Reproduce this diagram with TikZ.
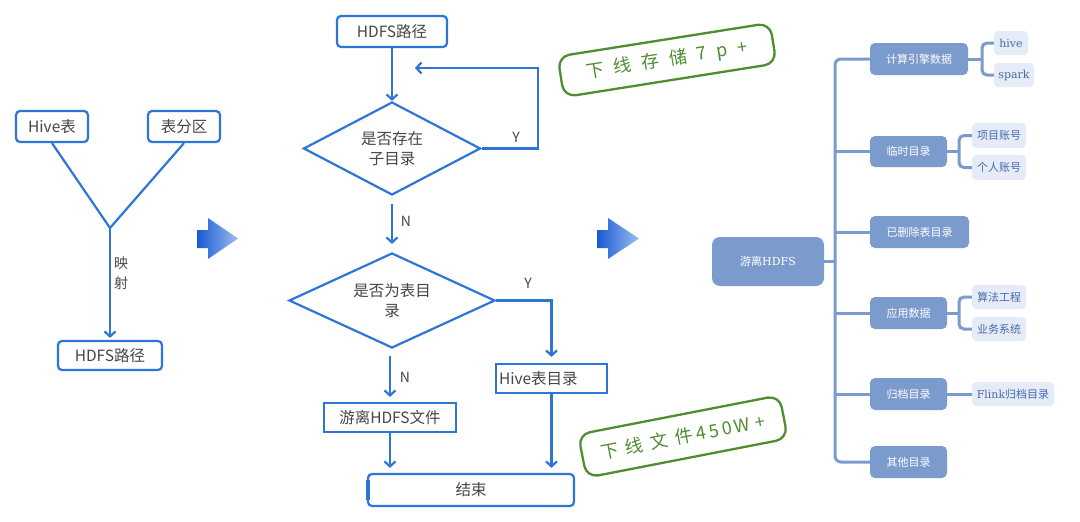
\documentclass[tikz,border=0pt]{standalone}
\usepackage{fontspec}
\newfontfamily\cjk{Noto Sans CJK SC}
\newfontfamily\serifl{DejaVu Serif}
\usetikzlibrary{arrows.meta,shapes.geometric}
\definecolor{fcblue}{RGB}{45,118,215}
\definecolor{fctext}{RGB}{70,70,70}
\definecolor{mmblue}{RGB}{123,155,205}
\definecolor{mmlight}{RGB}{230,236,247}
\definecolor{mmtext}{RGB}{70,105,175}
\definecolor{stampgreen}{RGB}{80,140,50}
\definecolor{arrdark}{RGB}{25,90,210}
\definecolor{arrlight}{RGB}{155,188,240}
\begin{document}
\begin{tikzpicture}[x=1pt,y=-1pt,
  fcbox/.style={draw=fcblue, line width=2.2pt, text=fctext, font=\cjk\fontsize{15.5}{20}\selectfont, inner sep=0pt, align=center},
  fcround/.style={fcbox, rounded corners=4pt},
  fcdia/.style={fcbox, diamond, aspect=2},
  fcline/.style={draw=fcblue, line width=2.2pt},
  fcarrow/.style={fcline, -{Straight Barb[length=5pt,width=11pt]}},
  fclabel/.style={text=fctext, font=\cjk\fontsize{14}{20}\selectfont, inner sep=0pt},
  mmline/.style={draw=mmblue, line width=3pt},
  mmmain/.style={fill=mmblue, text=white, rounded corners=5pt, font=\cjk\fontsize{11}{13}\selectfont, inner sep=0pt},
  mmleaf/.style={fill=mmlight, text=mmtext, rounded corners=4pt, font=\cjk\fontsize{11}{13}\selectfont, inner sep=0pt},
  stamp/.style={draw=stampgreen, line width=2.3pt, rounded corners=12pt, text=stampgreen, font=\cjk\fontsize{18}{20}\selectfont, inner sep=0pt}
]
\useasboundingbox[fill=white] (0,0) rectangle (1080,522);

% ---------- left part ----------
\node[fcround, minimum width=72pt, minimum height=31pt] (hive) at (52,126.5) {Hive表};
\node[fcround, minimum width=72pt, minimum height=31pt] (part) at (184,126.5) {表分区};
\coordinate (J) at (110,228);
\node[fcround, minimum width=104pt, minimum height=29pt] (hdfsA) at (110,355.5) {HDFS路径};
\draw[fcline] (hive.south) -- (J);
\draw[fcline] (part.south) -- (J);
\draw[fcarrow, shorten >=2pt] (J) -- (hdfsA.north);
\node[fclabel, align=center] (ys) at (121,273) {映\\射};

% ---------- gradient arrows ----------
\shade[left color=arrdark, right color=arrlight] (197,230) -- (208,230) -- (208,218) -- (238,238.5) -- (208,259) -- (208,248) -- (197,248) -- cycle;
\shade[left color=arrdark, right color=arrlight] (597,230) -- (608,230) -- (608,218) -- (639,238.5) -- (608,259) -- (608,248) -- (597,248) -- cycle;

% ---------- flowchart ----------
\node[fcround, minimum width=110pt, minimum height=31pt] (hdfsB) at (392,31.5) {HDFS路径};
\node[fcdia, minimum width=177pt, minimum height=93pt] (d1) at (392,148.5) {是否存在\\子目录};
\draw[fcarrow] (hdfsB.south) -- (d1.north);
\coordinate (loopR) at (538,68);
\coordinate (loopE) at (415,68);
\draw[fcarrow] (d1.east) -| (loopR) -- (loopE);
\node[fclabel] (y1) at (516,137) {Y};
\node[fcdia, minimum width=206pt, minimum height=95pt] (d2) at (392,300.5) {是否为表目\\录};
\draw[fcarrow, shorten <=8pt, shorten >=8pt] (d1.south) -- (d2.north);
\node[fclabel] (n1) at (406,221) {N};
\node[fcbox, minimum width=111pt, minimum height=29pt, text width=105pt, align=left] (hdir) at (551.5,378.5) {Hive表目录};
\draw[fcarrow, shorten >=6pt] (d2.east) -| (hdir.north);
\node[fclabel] (y2) at (528,283) {Y};
\node[fcbox, minimum width=132pt, minimum height=29pt] (youli) at (390,417.5) {游离HDFS文件};
\draw[fcarrow, shorten <=7pt, shorten >=5pt] (d2.south -| youli.north) -- (youli.north);
\node[fclabel] (n2) at (405,377) {N};
\node[fcround, minimum width=206pt, minimum height=32pt] (end) at (471,490) {结束};
\draw[draw=fcblue, line width=3.5pt] ([xshift=1.1pt,yshift=-10pt]end.west) -- ([xshift=1.1pt,yshift=10pt]end.west);
\draw[fcarrow, shorten >=5pt] (youli.south) -- (youli.south |- end.north);
\draw[fcarrow, shorten >=5pt] (hdir.south) -- (hdir.south |- end.north);

% ---------- stamps ----------
\node[stamp, minimum width=215pt, minimum height=41pt, rotate=9] (s1) at (667,60) {下\hspace{10pt}线\hspace{10pt}存\hspace{10pt}储\hspace{10pt}7\hspace{10pt}p\hspace{10pt}+};
\node[stamp, minimum width=205pt, minimum height=44pt, rotate=11] (s2) at (683,436.5) {下\hspace{7pt}线\hspace{7pt}文\hspace{7pt}件\hspace{4pt}4\hspace{3pt}5\hspace{3pt}0\hspace{3pt}W\hspace{5pt}+};

% ---------- mind map ----------
\node[mmmain, rounded corners=8pt, minimum width=112pt, minimum height=49pt] (root) at (768,261.5) {游离{\serifl HDFS}};
\node[mmmain, minimum width=98pt, minimum height=32pt] (m1) at (919,59) {计算引擎数据};
\node[mmmain, minimum width=77pt, minimum height=31pt] (m2) at (908.5,151.5) {临时目录};
\node[mmmain, minimum width=99pt, minimum height=32pt] (m3) at (919.5,232) {已删除表目录};
\node[mmmain, minimum width=77pt, minimum height=32pt] (m4) at (908.5,313) {应用数据};
\node[mmmain, minimum width=77pt, minimum height=32pt] (m5) at (908.5,394) {归档目录};
\node[mmmain, minimum width=77pt, minimum height=32pt] (m6) at (908.5,462) {其他目录};

\node[mmleaf, minimum width=34pt, minimum height=24pt, font=\serifl\fontsize{11}{13}\selectfont] (l1) at (1011,43) {hive};
\node[mmleaf, minimum width=40pt, minimum height=24pt, font=\serifl\fontsize{11}{13}\selectfont] (l2) at (1014,75) {spark};
\node[mmleaf, minimum width=54pt, minimum height=25pt] (l3) at (999,135.5) {项目账号};
\node[mmleaf, minimum width=54pt, minimum height=25pt] (l4) at (999,167.5) {个人账号};
\node[mmleaf, minimum width=54pt, minimum height=24pt] (l5) at (999,297) {算法工程};
\node[mmleaf, minimum width=54pt, minimum height=24pt] (l6) at (999,329) {业务系统};
\node[mmleaf, minimum width=82pt, minimum height=24pt] (l7) at (1013,394) {{\serifl Flink}归档目录};

\coordinate (T1) at (835,59);
\coordinate (T6) at (835,462);
\draw[mmline, rounded corners=6pt] (m1.west) -- (T1) -- (T6) -- (m6.west);
\draw[mmline] (root.east) -- (root.east -| T1);
\draw[mmline] (m2.west -| T1) -- (m2.west);
\draw[mmline] (m3.west -| T1) -- (m3.west);
\draw[mmline] (m4.west -| T1) -- (m4.west);
\draw[mmline] (m5.west -| T1) -- (m5.west);

\coordinate (B1) at (982,59);
\coordinate (B2) at (959,151.5);
\coordinate (B3) at (959,313);
\draw[mmline] (m1.east) -- (B1);
\draw[mmline, rounded corners=5pt] (l1.west) -- (l1.west -| B1) -- (l2.west -| B1) -- (l2.west);
\draw[mmline] (m2.east) -- (B2);
\draw[mmline, rounded corners=5pt] (l3.west) -- (l3.west -| B2) -- (l4.west -| B2) -- (l4.west);
\draw[mmline] (m4.east) -- (B3);
\draw[mmline, rounded corners=5pt] (l5.west) -- (l5.west -| B3) -- (l6.west -| B3) -- (l6.west);
\draw[mmline] (m5.east) -- (l7.west);
\end{tikzpicture}
\end{document}
